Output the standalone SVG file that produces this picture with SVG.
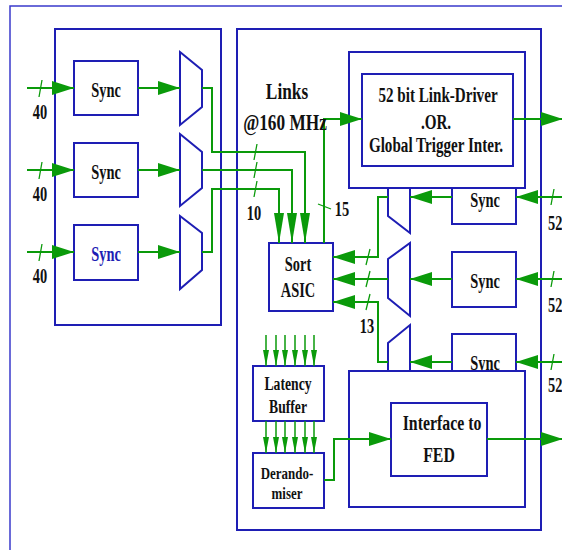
<svg xmlns="http://www.w3.org/2000/svg" width="562" height="550" viewBox="0 0 562 550">
<style>
.b{fill:none;stroke:#1e1eb4;stroke-width:2}
.bw{fill:#fff;stroke:#1e1eb4;stroke-width:2}
.fr{fill:none;stroke:#3a3acc;stroke-width:1.5}
.g{fill:none;stroke:#0a9a0a;stroke-width:2}
.gs{fill:none;stroke:#0a9a0a;stroke-width:1.5}
.sl{fill:none;stroke:#0a9a0a;stroke-width:1.3}
text{font-family:"Liberation Serif","Times New Roman",serif;font-weight:bold;fill:#111;text-anchor:middle}
.t20{font-size:20px}
.t24{font-size:24px}
.t21{font-size:21px}
.t22{font-size:22px}
.t19{font-size:19px}
.t17{font-size:17.5px}
.blue{fill:#1e1eb4}
.st{text-anchor:start}
</style>
<defs>
<marker id="ah" markerUnits="userSpaceOnUse" markerWidth="24" markerHeight="16" refX="22" refY="7" orient="auto"><path d="M0,0 L22,7 L0,14 Z" fill="#0a9a0a"/></marker>
<marker id="av" markerUnits="userSpaceOnUse" markerWidth="32" markerHeight="12" refX="30" refY="5" orient="auto"><path d="M0,0 L30,5 L0,10 Z" fill="#0a9a0a"/></marker>
<marker id="as" markerUnits="userSpaceOnUse" markerWidth="18" markerHeight="8" refX="16" refY="3" orient="auto"><path d="M0,0 L16,3 L0,6 Z" fill="#0a9a0a"/></marker>
</defs>
<rect width="562" height="550" fill="#fff"/>
<g id="frame">
<path class="fr" d="M10,550 V6 H562"/>
<rect class="b" x="55" y="29" width="166" height="296"/>
<rect class="b" x="237" y="29" width="304" height="501"/>
</g>
<g id="sync-l1"><rect class="b" x="74" y="61" width="64" height="54"/><text class="t20" transform="translate(106,97) scale(0.72,1)">Sync</text></g>
<g id="sync-l2"><rect class="b" x="74" y="143" width="64" height="54"/><text class="t20" transform="translate(106,179) scale(0.72,1)">Sync</text></g>
<g id="sync-l3"><rect class="b" x="74" y="225" width="64" height="55"/><text class="t20 blue" transform="translate(106,261) scale(0.72,1)">Sync</text></g>
<g id="mux-l1"><polygon class="bw" points="180,52 202,70 202,107 180,125"/></g>
<g id="mux-l2"><polygon class="bw" points="180,134 202,152 202,188 180,206"/></g>
<g id="mux-l3"><polygon class="bw" points="180,216 202,233 202,270 180,289"/></g>
<g id="sync-r1"><rect class="b" x="452" y="169" width="64" height="55"/><text class="t20" transform="translate(485,207) scale(0.72,1)">Sync</text></g>
<g id="sync-r2"><rect class="b" x="452" y="252" width="64" height="55"/><text class="t20" transform="translate(485,288) scale(0.72,1)">Sync</text></g>
<g id="sync-r3"><rect class="b" x="452" y="334" width="64" height="55"/><text class="t20" transform="translate(485,370) scale(0.72,1)">Sync</text></g>
<g id="mux-r1"><polygon class="bw" points="410,160 410,233 388,216 388,178"/></g>
<g id="mux-r2"><polygon class="bw" points="410,243 410,316 388,298 388,259"/></g>
<g id="mux-r3"><polygon class="bw" points="410,325 410,398 388,380 388,343"/></g>
<g id="link-driver">
<rect class="bw" x="349" y="52" width="176" height="136"/>
<rect class="b" x="362" y="74" width="151" height="92"/>
<text class="t21" transform="translate(438,102) scale(0.72,1)">52 bit Link-Driver</text>
<text class="t21" transform="translate(436,129) scale(0.72,1)">.OR.</text>
<text class="t21" transform="translate(436,152) scale(0.72,1)">Global Trigger Inter.</text>
</g>
<g id="sort-asic"><rect class="bw" x="269" y="243" width="64" height="68"/><text class="t20" transform="translate(298,271) scale(0.72,1)">Sort</text><text class="t20" transform="translate(298,297) scale(0.72,1)">ASIC</text></g>
<g id="latency-buffer"><rect class="bw" x="253" y="366" width="71" height="55"/><text class="t19" transform="translate(288,390) scale(0.72,1)">Latency</text><text class="t19" transform="translate(288,413) scale(0.72,1)">Buffer</text></g>
<g id="derandomiser"><rect class="bw" x="253" y="453" width="71" height="55"/><text class="t17" transform="translate(287,479) scale(0.74,1)">Derando-</text><text class="t17" transform="translate(287,499) scale(0.74,1)">miser</text></g>
<g id="fed">
<rect class="bw" x="349" y="371" width="176" height="136"/>
<rect class="b" x="391" y="403" width="96" height="73"/>
<text class="t22" transform="translate(442,430) scale(0.72,1)">Interface to</text>
<text class="t22" transform="translate(439,462) scale(0.72,1)">FED</text>
</g>
<g id="connectors">
<path class="g" d="M27,88 H74" marker-end="url(#ah)"/>
<path class="g" d="M27,170 H74" marker-end="url(#ah)"/>
<path class="g" d="M27,252 H74" marker-end="url(#ah)"/>
<path class="sl" d="M42,80 L39,97 M42,162 L39,179 M42,244 L39,261"/>
<path class="g" d="M138,88 H180" marker-end="url(#ah)"/>
<path class="g" d="M138,170 H180" marker-end="url(#ah)"/>
<path class="g" d="M138,252 H180" marker-end="url(#ah)"/>
<path class="g" d="M202,88 H212 V152 H305 V243" marker-end="url(#av)"/>
<path class="g" d="M202,170 H292 V243" marker-end="url(#av)"/>
<path class="g" d="M202,252 H212 V189 H279 V243" marker-end="url(#av)"/>
<path class="sl" d="M257,144 L254,160 M257,162 L254,178 M257,181 L254,197"/>
<path class="g" d="M324,243 V119 H362" marker-end="url(#ah)"/>
<path class="sl" d="M318,204 L331,209"/>
<path class="g" d="M513,119 H563" marker-end="url(#ah)"/>
<path class="g" d="M562,197 H516" marker-end="url(#ah)"/>
<path class="g" d="M562,279 H516" marker-end="url(#ah)"/>
<path class="g" d="M562,362 H516" marker-end="url(#ah)"/>
<path class="sl" d="M554,189 L551,205 M554,271 L551,287 M554,354 L551,370"/>
<path class="g" d="M452,197 H410" marker-end="url(#ah)"/>
<path class="g" d="M452,279 H410" marker-end="url(#ah)"/>
<path class="g" d="M452,362 H410" marker-end="url(#ah)"/>
<path class="g" d="M388,197 H378 V257 H333" marker-end="url(#ah)"/>
<path class="g" d="M388,279 H333" marker-end="url(#ah)"/>
<path class="g" d="M388,362 H378 V302 H333" marker-end="url(#ah)"/>
<path class="sl" d="M370,249 L366,265 M370,271 L366,287 M370,294 L366,310"/>
<path class="gs" d="M266,335 V366" marker-end="url(#as)"/>
<path class="gs" d="M276,335 V366" marker-end="url(#as)"/>
<path class="gs" d="M285,335 V366" marker-end="url(#as)"/>
<path class="gs" d="M295,335 V366" marker-end="url(#as)"/>
<path class="gs" d="M305,335 V366" marker-end="url(#as)"/>
<path class="gs" d="M314,335 V366" marker-end="url(#as)"/>
<path class="gs" d="M266,421 V453" marker-end="url(#as)"/>
<path class="gs" d="M276,421 V453" marker-end="url(#as)"/>
<path class="gs" d="M285,421 V453" marker-end="url(#as)"/>
<path class="gs" d="M295,421 V453" marker-end="url(#as)"/>
<path class="gs" d="M305,421 V453" marker-end="url(#as)"/>
<path class="gs" d="M314,421 V453" marker-end="url(#as)"/>
<path class="g" d="M324,480 H334 V439 H391" marker-end="url(#ah)"/>
<path class="g" d="M487,439 H563" marker-end="url(#ah)"/>
</g>
<g id="labels">
<text class="t24" transform="translate(287,99) scale(0.72,1)">Links</text>
<text class="t24" transform="translate(285,130) scale(0.72,1)">@160 MHz</text>
<text class="t20" transform="translate(40,119) scale(0.72,1)">40</text>
<text class="t20" transform="translate(40,201) scale(0.72,1)">40</text>
<text class="t20" transform="translate(40,283) scale(0.72,1)">40</text>
<text class="t20" transform="translate(254,220) scale(0.72,1)">10</text>
<text class="t20" transform="translate(342,216) scale(0.72,1)">15</text>
<text class="t20" transform="translate(367,333) scale(0.72,1)">13</text>
<text class="t20 st" transform="translate(548,230) scale(0.72,1)">52</text>
<text class="t20 st" transform="translate(548,312) scale(0.72,1)">52</text>
<text class="t20 st" transform="translate(548,392) scale(0.72,1)">52</text>
</g>
</svg>
